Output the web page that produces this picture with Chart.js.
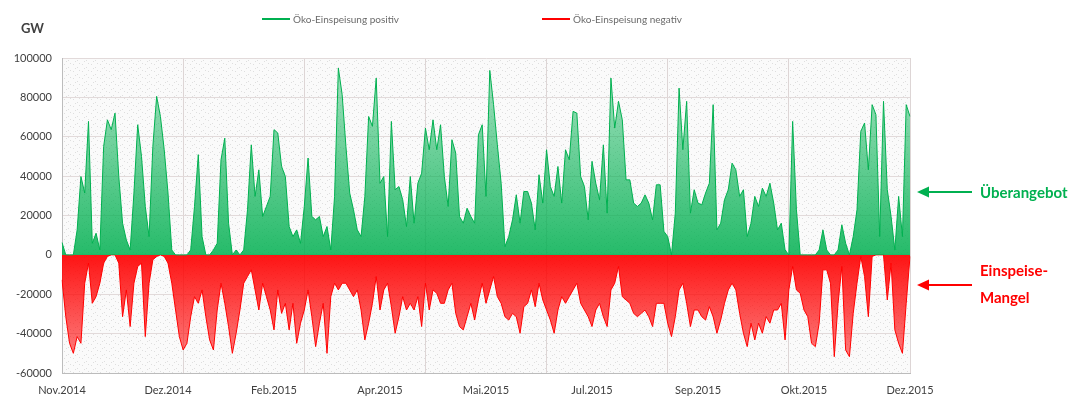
<!DOCTYPE html>
<html lang="de">
<head>
<meta charset="UTF-8" />
<title>Öko-Einspeisung positiv / negativ</title>
<script src="https://cdn.jsdelivr.net/npm/chart.js"></script>
<style>
    body { margin: 0; background: #ffffff; font-family: Lato, "Open Sans", sans-serif; }
    .wrap { position: relative; width: 1085px; height: 405px; }
    #feedChart { position: absolute; left: 0; top: 0; }
    .unit { position: absolute; left: 21px; top: 20px; font-size: 13px; font-weight: 700; color: #404040; }
    .legend-item { position: absolute; top: 13px; font-size: 10px; color: #6a6a6a; display: flex; align-items: center; white-space: nowrap; }
    .legend-item i { display: inline-block; width: 28px; height: 2px; margin-right: 3px; }
    .note { position: absolute; left: 980px; font-size: 15px; font-weight: 700; line-height: 27px; }
    svg.arrows { position: absolute; left: 0; top: 0; }
</style>
</head>
<body>
<div class="wrap">
    <canvas id="feedChart" width="1085" height="405"></canvas>
    <div class="unit">GW</div>
    <div id="legend"></div>
    <svg class="arrows" width="1085" height="405">
        <line x1="972" y1="192" x2="926" y2="192" stroke="#00b050" stroke-width="2" />
        <polygon points="917,192 929,186.5 929,197.5" fill="#00b050" />
        <line x1="972" y1="285" x2="926" y2="285" stroke="#ff0000" stroke-width="2" />
        <polygon points="917,285 929,279.5 929,290.5" fill="#ff0000" />
    </svg>
    <div class="note" style="top:179px; color:#00b050;">Überangebot</div>
    <div class="note" style="top:257px; color:#ff0000;">Einspeise-<br>Mangel</div>
</div>

<script>
    // positive surplus (envelope of the hourly values)
    const posSeries = [
        6300, 0, 0, 0, 12700, 39800, 31400, 67800, 5900, 11000,
        2500, 55100, 68600, 63600, 72000, 39800, 16100, 7600, 2500, 31400,
        66100, 50000, 24600, 9300, 55100, 80500, 70300, 53400, 31400, 2500,
        0, 0, 0, 0, 2500, 24600, 50900, 9300, 0, 0,
        2500, 5900, 48300, 59300, 16100, 0, 2500, 0, 2500, 22900,
        55900, 29700, 43200, 19500, 24600, 29700, 63600, 61900, 44900, 39800,
        14400, 9300, 12700, 5900, 24600, 49200, 19500, 17800, 19500, 9300,
        14400, 2500, 29700, 94900, 81400, 55100, 31400, 22900, 12700, 9300,
        29700, 70300, 65300, 89800, 36400, 39800, 9300, 67800, 33100, 34700,
        28000, 14400, 39800, 16100, 36400, 41500, 64400, 53400, 68600, 53400,
        66100, 39800, 24600, 58500, 51700, 19500, 16100, 23700, 19500, 16100,
        61000, 66100, 29700, 93700, 76300, 55900, 36400, 4200, 9300, 17800,
        30500, 16100, 32200, 32200, 26300, 12700, 40700, 26300, 53400, 34700,
        29700, 44900, 26300, 53400, 48300, 72900, 72000, 39800, 34700, 17800,
        47500, 36400, 28000, 55900, 21200, 89800, 64400, 78000, 68600, 38100,
        38100, 26300, 24600, 26300, 30500, 26300, 17800, 35600, 35600, 11900,
        9300, 0, 21200, 84700, 53400, 78000, 21200, 33100, 26300, 25400,
        31400, 36400, 76300, 12700, 16100, 28000, 33100, 46600, 43200, 29700,
        33100, 9300, 16100, 29700, 24600, 33900, 29700, 36400, 26300, 12700,
        16100, 2500, 0, 67800, 22900, 0, 0, 0, 0, 0,
        2500, 12700, 2500, 0, 0, 2500, 15300, 5900, 0, 9300,
        22900, 62700, 67000, 43200, 76300, 71200, 9300, 78000, 33100, 19500,
        2500, 29700, 9300, 76300, 70300
    ];

    // negative shortfall (envelope of the hourly values)
    const negSeries = [
        -12700, -31400, -44900, -50000, -41500, -44900, -14400, -4200, -24600, -21200,
        -14400, -4200, -800, 0, 0, -4200, -31400, -17800, -36400, -14400,
        -5900, -4200, -41500, -14400, -2500, -800, 0, -800, -4200, -14400,
        -28000, -41500, -48300, -44900, -31400, -21200, -24600, -17800, -31400, -43200,
        -48300, -28000, -14400, -24600, -36400, -50000, -39800, -28000, -14400, -11000,
        -7600, -17800, -28000, -14400, -21200, -28000, -38100, -17800, -29700, -24600,
        -38100, -24600, -44900, -34700, -28000, -17800, -31400, -46600, -34700, -24600,
        -50000, -21200, -14400, -17800, -14400, -14400, -17800, -21200, -17800, -28000,
        -43200, -34700, -24600, -11000, -28000, -17800, -14400, -26300, -39800, -31400,
        -21200, -28000, -24600, -28000, -21200, -36400, -14400, -28000, -17800, -19500,
        -24600, -24600, -17800, -14400, -29700, -36400, -38100, -31400, -24600, -33100,
        -22900, -14400, -24600, -17800, -11000, -21200, -24600, -31400, -33100, -29700,
        -31400, -39800, -26300, -24600, -17800, -26300, -14400, -22900, -28000, -33100,
        -39800, -28000, -21200, -24600, -21200, -17800, -14400, -24600, -28000, -31400,
        -36400, -28000, -24600, -31400, -36400, -17800, -14400, -5900, -21200, -22900,
        -24600, -29700, -31400, -29700, -28000, -31400, -36400, -24600, -24600, -24600,
        -34700, -41500, -31400, -17800, -14400, -24600, -36400, -28000, -28000, -31400,
        -33100, -26300, -31400, -39800, -33100, -24600, -17800, -14400, -17800, -29700,
        -39800, -46600, -34700, -43200, -34700, -39800, -31400, -34700, -28000, -28000,
        -24600, -43200, -17800, -5900, -17800, -19500, -28000, -31400, -44900, -46600,
        -34700, -7600, -7600, -14400, -51700, -24600, -5900, -48300, -51700, -29700,
        -14400, -800, -11000, -31400, -800, 0, 0, 0, -22900, -4200,
        -38100, -44900, -50000, -24600, -800
    ];

    const monthTicks = ["Nov.2014", "Dez.2014", "Feb.2015", "Apr.2015", "Mai.2015",
                        "Jul.2015", "Sep.2015", "Okt.2015", "Dez.2015"];
    const seriesNames = ["Öko-Einspeisung positiv", "Öko-Einspeisung negativ"];
    const seriesColors = ["#00b050", "#ff0000"];

    const labelEvery = (posSeries.length - 1) / (monthTicks.length - 1); // 28
    const gridEvery = 32;

    // speckled plot background like the excel chart
    const dots = document.createElement("canvas");
    dots.width = 9; dots.height = 7;
    const dctx = dots.getContext("2d");
    dctx.fillStyle = "rgba(0,0,0,0.11)";
    [[1, 1], [5, 4], [7, 0], [3, 5]].forEach((p) => dctx.fillRect(p[0], p[1], 1, 1));

    const plotBackground = {
        id: "plotBackground",
        beforeDraw(chart) {
            const { ctx, chartArea: a } = chart;
            ctx.save();
            ctx.fillStyle = "#fafafa";
            ctx.fillRect(a.left, a.top, a.right - a.left, a.bottom - a.top);
            ctx.fillStyle = ctx.createPattern(dots, "repeat");
            ctx.fillRect(a.left, a.top, a.right - a.left, a.bottom - a.top);
            ctx.restore();
        }
    };

    // dense near zero, thinner towards the peaks (hourly spikes)
    function areaFill(rgb, toValue, nearAlpha, farAlpha) {
        return (c) => {
            const chart = c.chart;
            if (!chart.chartArea) return "rgba(" + rgb + "," + nearAlpha + ")";
            const y = chart.scales.y;
            const g = chart.ctx.createLinearGradient(0, y.getPixelForValue(0), 0, y.getPixelForValue(toValue));
            g.addColorStop(0, "rgba(" + rgb + "," + nearAlpha + ")");
            g.addColorStop(1, "rgba(" + rgb + "," + farAlpha + ")");
            return g;
        };
    }

    const ctx = document.getElementById("feedChart").getContext("2d");
    const feedChart = new Chart(ctx, {
        type: "line",
        data: {
            labels: posSeries.map((v, i) => i),
            datasets: [
                {
                    label: seriesNames[0],
                    data: posSeries,
                    borderColor: seriesColors[0],
                    backgroundColor: areaFill("0,176,80", 95000, 0.85, 0.35),
                    borderWidth: 1,
                    fill: "origin",
                    pointRadius: 0,
                    tension: 0
                },
                {
                    label: seriesNames[1],
                    data: negSeries,
                    borderColor: seriesColors[1],
                    backgroundColor: areaFill("255,0,0", -52000, 0.92, 0.5),
                    borderWidth: 1,
                    fill: "origin",
                    pointRadius: 0,
                    tension: 0
                }
            ]
        },
        options: {
            responsive: false,
            animation: false,
            layout: { padding: { top: 58, right: 175, left: 0, bottom: 0 } },
            plugins: {
                legend: { display: false },
                tooltip: { enabled: false }
            },
            scales: {
                x: {
                    type: "category",
                    offset: false,
                    grid: {
                        color: (c) => (c.index % gridEvery === 0 ? "#ddd5d5" : "rgba(0,0,0,0)"),
                        drawTicks: false
                    },
                    border: { color: "#bcbcbc" },
                    ticks: {
                        autoSkip: false,
                        maxRotation: 0,
                        minRotation: 0,
                        padding: 11,
                        color: "#404040",
                        font: { family: "Lato", size: 11 },
                        callback: (v, i) => (i % labelEvery === 0 ? monthTicks[i / labelEvery] : "")
                    },
                    afterFit: (s) => { s.height = 32; }
                },
                y: {
                    min: -60000,
                    max: 100000,
                    grid: { color: "#e2dada", drawTicks: false },
                    border: { color: "#bcbcbc" },
                    ticks: {
                        stepSize: 20000,
                        padding: 10,
                        color: "#404040",
                        font: { family: "Lato", size: 11 },
                        callback: (v) => String(v)
                    },
                    afterFit: (s) => { s.width = 62; }
                }
            }
        },
        plugins: [plotBackground]
    });

    // html legend built from the datasets
    const legendLeft = [262, 542];
    const legendBox = document.getElementById("legend");
    feedChart.data.datasets.forEach((ds, i) => {
        const item = document.createElement("div");
        item.className = "legend-item";
        item.style.left = legendLeft[i] + "px";
        item.innerHTML = '<i style="background:' + ds.borderColor + '"></i>' + ds.label;
        legendBox.appendChild(item);
    });
</script>
</body>
</html>
